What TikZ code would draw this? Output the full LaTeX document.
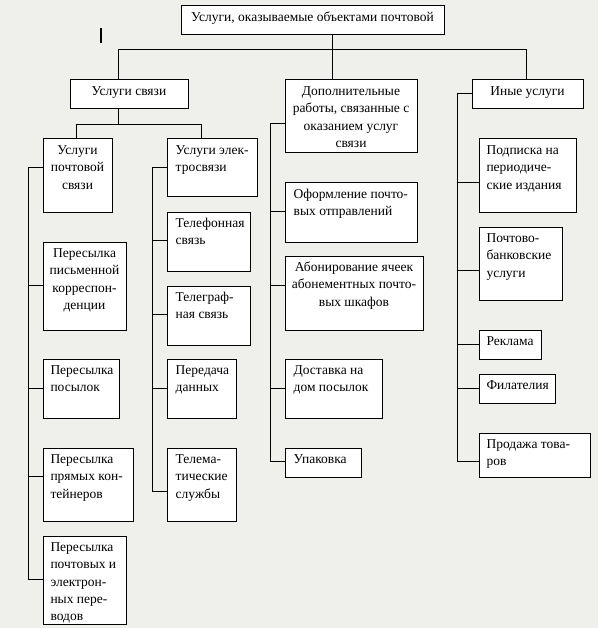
\documentclass[tikz,border=0pt]{standalone}
\usepackage{fontspec}
\setmainfont{Liberation Serif}
\definecolor{bgc}{RGB}{239,240,235}
\tikzset{
  box/.style={draw, fill=white, line width=1pt, rectangle, anchor=north west, inner sep=0pt},
  lt/.style={anchor=north west, align=left, inner sep=0pt, xshift=7.8pt, yshift=-3.96pt},
  lt2/.style={lt, xshift=1.2pt},
  ct/.style={anchor=north, align=center, inner sep=0pt, yshift=-3.96pt},
  ln/.style={line width=1pt},
}

\begin{document}
\begin{tikzpicture}[x=1pt, y=-1pt, font=\fontsize{13.5}{17.2}\selectfont]

% Background
\fill[bgc] (0,0) rectangle (598,628);
\useasboundingbox (0,0) rectangle (598,628);

% Top
\node[box, minimum width=263pt, minimum height=29pt, label={[ct]north:{\strut Услуги, оказываемые объектами почтовой}}] (root) at (180.5,5.5) {};
\draw[line width=2pt] (101,28) -- (101,43);

% Second level
\node[box, minimum width=118pt, minimum height=29pt, label={[ct]north:{\strut Услуги связи}}] (svyaz) at (69.5,79.5) {};
\node[box, minimum width=132pt, minimum height=73pt, label={[ct]north:{\strut Дополнительные\\работы, связанные с\\оказанием услуг\\связи}}] (dop) at (284.5,79.5) {};
\node[box, minimum width=111pt, minimum height=29pt, label={[ct]north:{\strut Иные услуги}}] (ini) at (471.5,79.5) {};

% Services of communication
\node[box, minimum width=69pt, minimum height=73pt, label={[ct]north:{\strut Услуги\\почтовой\\связи}}] (pocht) at (42.5,138.5) {};
\node[box, minimum width=90pt, minimum height=58pt, label={[lt2]north west:{\strut Услуги элек-\\тросвязи}}] (elek) at (166.5,138.5) {};

% Postal column
\node[box, minimum width=83pt, minimum height=88pt, label={[ct]north:{\strut Пересылка\\письменной\\корреспон-\\денции}}] (pis) at (42.5,241.5) {};
\node[box, minimum width=76pt, minimum height=59pt, label={[lt]north west:{\strut Пересылка\\посылок}}] (pos) at (42.5,358.5) {};
\node[box, minimum width=90pt, minimum height=73pt, label={[lt]north west:{\strut Пересылка\\прямых кон-\\тейнеров}}] (kont) at (42.5,447.5) {};
\node[box, minimum width=83pt, minimum height=88pt, label={[lt]north west:{\strut Пересылка\\почтовых и\\электрон-\\ных пере-\\водов}}] (per) at (42.5,535.5) {};

% Telecom column
\node[box, minimum width=83pt, minimum height=59pt, label={[lt2]north west:{\strut Телефонная\\связь}}] (tel) at (166.5,211.5) {};
\node[box, minimum width=83pt, minimum height=59pt, label={[lt2]north west:{\strut Телеграф-\\ная связь}}] (tlg) at (166.5,285.5) {};
\node[box, minimum width=69pt, minimum height=59pt, label={[lt2]north west:{\strut Передача\\данных}}] (dan) at (166.5,358.5) {};
\node[box, minimum width=69pt, minimum height=73pt, label={[lt2]north west:{\strut Телема-\\тические\\службы}}] (tlm) at (166.5,447.5) {};

% Additional works column
\node[box, minimum width=132pt, minimum height=59pt, label={[lt2]north west:{\strut Оформление почто-\\вых отправлений}}] (oform) at (284.5,182.5) {};
\node[box, minimum width=138pt, minimum height=74pt, label={[ct]north:{\strut Абонирование ячеек\\абонементных почто-\\вых шкафов}}] (abon) at (284.5,255.5) {};
\node[box, minimum width=97pt, minimum height=59pt, label={[lt2]north west:{\strut Доставка на\\дом посылок}}] (dost) at (284.5,358.5) {};
\node[box, minimum width=76pt, minimum height=29pt, label={[lt2]north west:{\strut Упаковка}}] (upak) at (284.5,447.5) {};

% Other services column
\node[box, minimum width=97pt, minimum height=73pt, label={[lt]north west:{\strut Подписка на\\периодиче-\\ские издания}}] (podp) at (478.5,138.5) {};
\node[box, minimum width=83pt, minimum height=73pt, label={[lt]north west:{\strut Почтово-\\банковские\\услуги}}] (bank) at (478.5,226.5) {};
\node[box, minimum width=62pt, minimum height=29pt, label={[lt]north west:{\strut Реклама}}] (rekl) at (478.5,329.5) {};
\node[box, minimum width=76pt, minimum height=29pt, label={[lt]north west:{\strut Филателия}}] (fil) at (478.5,373.5) {};
\node[box, minimum width=111pt, minimum height=44pt, label={[lt]north west:{\strut Продажа това-\\ров}}] (prod) at (478.5,432.5) {};

% Top connectors
\coordinate (bus) at (332.5,49.5);
\draw[ln] (root.south -| bus) -- (dop.north -| bus);
\draw[ln] ([xshift=49pt]svyaz.north west) |- (bus) -| ([xshift=55pt]ini.north west);
\draw[ln] ([xshift=49pt]svyaz.south west) -- ++(0,15) coordinate (sbus);
\draw[ln] ([xshift=34pt]pocht.north west) |- (sbus) -| ([xshift=35pt]elek.north west);

% Column brackets
\coordinate (b1) at (28.5,0);
\coordinate (b2) at (152.5,0);
\coordinate (b3) at (270.5,0);
\coordinate (b4) at (457.5,0);

\coordinate (c1a) at ([yshift=-29pt]pocht.north west);
\coordinate (c1b) at ([yshift=-44pt]per.north west);
\draw[ln] (c1a) -| (c1b -| b1) -- (c1b);
\foreach \n/\o in {pis/44,pos/30,kont/29} {
  \coordinate (t) at ([yshift=-\o pt]\n.north west);
  \draw[ln] (t) -- (t -| b1);
}

\coordinate (c2a) at ([yshift=-29pt]elek.north west);
\coordinate (c2b) at ([yshift=-44pt]tlm.north west);
\draw[ln] (c2a) -| (c2b -| b2) -- (c2b);
\foreach \n/\o in {tel/29,tlg/29,dan/30} {
  \coordinate (t) at ([yshift=-\o pt]\n.north west);
  \draw[ln] (t) -- (t -| b2);
}

\coordinate (c3a) at ([yshift=-44pt]dop.north west);
\coordinate (c3b) at ([yshift=-14pt]upak.north west);
\draw[ln] (c3a) -| (c3b -| b3) -- (c3b);
\foreach \n/\o in {oform/29,abon/30,dost/30} {
  \coordinate (t) at ([yshift=-\o pt]\n.north west);
  \draw[ln] (t) -- (t -| b3);
}

\coordinate (c4a) at ([yshift=-14pt]ini.north west);
\coordinate (c4b) at ([yshift=-29pt]prod.north west);
\draw[ln] (c4a) -| (c4b -| b4) -- (c4b);
\foreach \n/\o in {podp/44,bank/44,rekl/15,fil/15} {
  \coordinate (t) at ([yshift=-\o pt]\n.north west);
  \draw[ln] (t) -- (t -| b4);
}

\end{tikzpicture}
\end{document}
